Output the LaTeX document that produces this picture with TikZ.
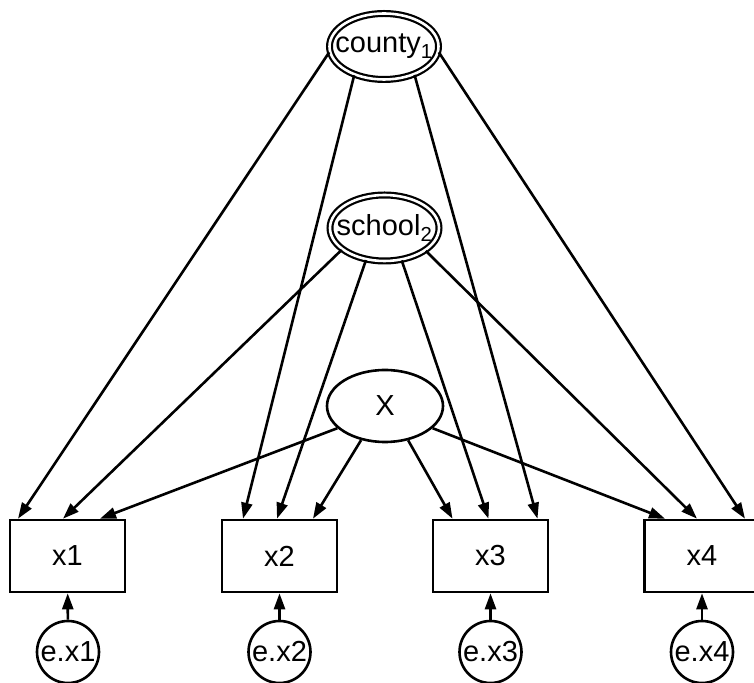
\documentclass[tikz,border=0pt]{standalone}
\usepackage{fontspec}
\setmainfont{Liberation Sans}
\usetikzlibrary{shapes.geometric,arrows.meta}

\begin{document}
\begin{tikzpicture}[x=1pt,y=1pt,line width=2.6pt,font=\fontsize{29}{35}\selectfont,
	lat/.style={ellipse,draw,inner sep=0pt,minimum width=116pt,minimum height=72pt},
	ml/.style={ellipse,draw,double,double distance=2.6pt,line width=2.2pt,inner ysep=0pt,inner xsep=-14pt,minimum width=109pt,minimum height=66pt},
	obs/.style={rectangle,draw,minimum width=115pt,minimum height=72pt},
	err/.style={circle,draw,inner sep=0pt,minimum size=62pt},
	arr/.style={-{Triangle[length=16pt,width=11pt]}}]
	\useasboundingbox (0,0) rectangle (754,682);
	% latent variables
	\node[ml] (county) at (384,635.5) {county\textsubscript{1}};
	\node[ml] (school) at (384.5,454) {school\textsubscript{2}};
	\node[lat] (X) at (385,276) {X};
	% observed variables and their errors
	\node[obs] (x1) at (67.5,126) {x1};
	\node[obs] (x2) at (279.5,126) {x2};
	\node[obs] (x3) at (490.5,126) {x3};
	\node[obs] (x4) at (702,126) {x4};
	\node[err] (e1) at (68,30) {e.x1};
	\node[err] (e2) at (279.5,30) {e.x2};
	\node[err] (e3) at (490.5,30) {e.x3};
	\node[err] (e4) at (702,30) {e.x4};
	% county paths
	\draw[arr] (county.186) -- ([xshift=-49.5pt]x1.north);
	\draw[arr] (county.224) -- ([xshift=-36.5pt]x2.north);
	\draw[arr] (county.317) -- ([xshift=47pt]x3.north);
	\draw[arr] (county.354) -- ([xshift=43pt]x4.north);
	% school paths
	\draw[arr] (school.207) -- ([xshift=-4.5pt]x1.north);
	\draw[arr] (school.240) -- ([xshift=-2.5pt]x2.north);
	\draw[arr] (school.298) -- ([xshift=-2pt]x3.north);
	\draw[arr] (school.331) -- ([xshift=-5pt]x4.north);
	% X paths
	\draw[arr] (X.205) -- ([xshift=32.5pt]x1.north);
	\draw[arr] (X.235) -- ([xshift=33.5pt]x2.north);
	\draw[arr] (X.304) -- ([xshift=-38pt]x3.north);
	\draw[arr] (X.335) -- ([xshift=-37pt]x4.north);
	% errors
	\draw[arr] (e1) -- (x1);
	\draw[arr] (e2) -- (x2);
	\draw[arr] (e3) -- (x3);
	\draw[arr] (e4) -- (x4);
\end{tikzpicture}
\end{document}
